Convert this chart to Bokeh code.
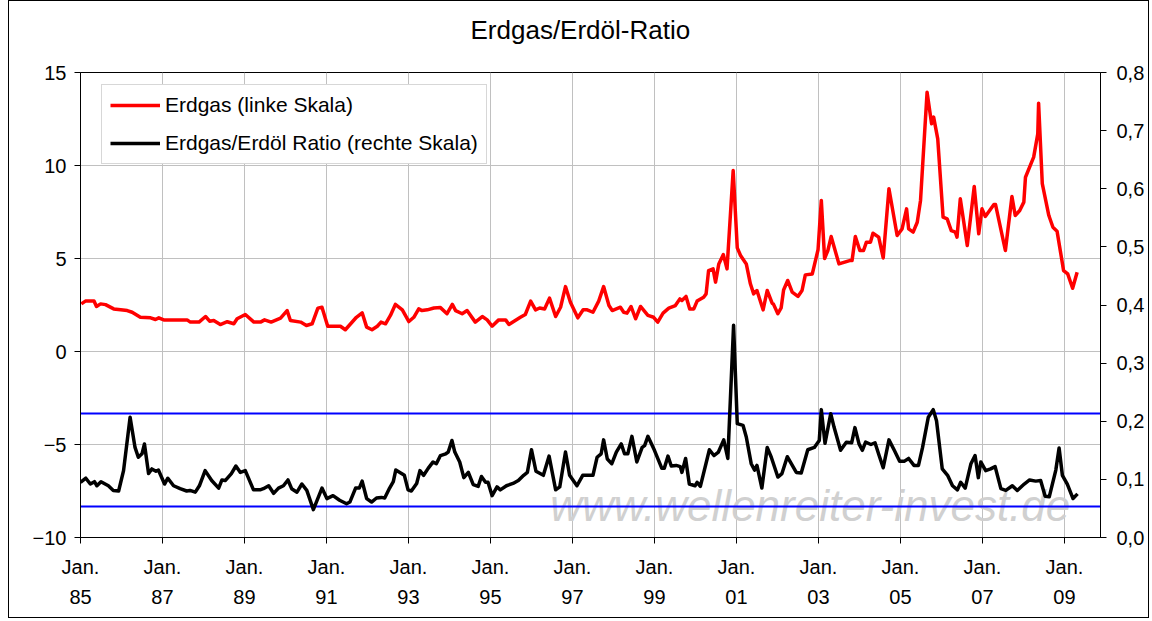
from bokeh.plotting import figure
from bokeh.models import (Range1d, LinearAxis, FixedTicker, CustomJSTickFormatter,
                          Label, Legend, LegendItem, Title)
from bokeh.embed import file_html
from bokeh.resources import INLINE

FONT = "Liberation Sans"

# ---------------- data ----------------
title_text = "Erdgas/Erdöl-Ratio"
gas_label = "Erdgas (linke Skala)"
ratio_label = "Erdgas/Erdöl Ratio (rechte Skala)"
watermark_text = "www.wellenreiter-invest.de"

tick_years = [1985, 1987, 1989, 1991, 1993, 1995, 1997, 1999, 2001, 2003, 2005, 2007, 2009]
left_ticks = [-10, -5, 0, 5, 10, 15]
right_ticks = [0.0, 0.1, 0.2, 0.3, 0.4, 0.5, 0.6, 0.7, 0.8]
band_levels = [0.213, 0.054]

gas_dates = [
    1985.02, 1985.12, 1985.33, 1985.39, 1985.49, 1985.61, 1985.81, 1985.98, 1986.14, 1986.26,
    1986.46, 1986.71, 1986.83, 1986.91, 1987.03, 1987.60, 1987.68, 1987.89, 1988.05, 1988.15,
    1988.25, 1988.41, 1988.58, 1988.74, 1988.82, 1989.02, 1989.23, 1989.39, 1989.49, 1989.65,
    1989.88, 1990.04, 1990.12, 1990.37, 1990.51, 1990.65, 1990.79, 1990.89, 1991.03, 1991.34,
    1991.46, 1991.73, 1991.87, 1991.98, 1992.11, 1992.24, 1992.33, 1992.44, 1992.56, 1992.68,
    1992.85, 1993.01, 1993.13, 1993.25, 1993.33, 1993.46, 1993.62, 1993.78, 1993.94, 1994.07,
    1994.15, 1994.31, 1994.43, 1994.63, 1994.80, 1994.92, 1995.04, 1995.20, 1995.37, 1995.45,
    1995.73, 1995.85, 1995.98, 1996.10, 1996.20, 1996.32, 1996.44, 1996.59, 1996.71, 1996.83,
    1996.95, 1997.13, 1997.26, 1997.36, 1997.50, 1997.64, 1997.76, 1997.89, 1997.97, 1998.17,
    1998.25, 1998.33, 1998.43, 1998.54, 1998.66, 1998.84, 1998.98, 1999.08, 1999.21, 1999.35,
    1999.51, 1999.62, 1999.67, 1999.77, 1999.86, 1999.96, 2000.04, 2000.20, 2000.26, 2000.32,
    2000.43, 2000.49, 2000.57, 2000.68, 2000.77, 2000.92, 2001.02, 2001.10, 2001.24, 2001.34,
    2001.42, 2001.50, 2001.65, 2001.75, 2001.87, 2001.90, 2002.01, 2002.09, 2002.15, 2002.25,
    2002.36, 2002.50, 2002.60, 2002.68, 2002.85, 2002.99, 2003.07, 2003.15, 2003.23, 2003.31,
    2003.50, 2003.76, 2003.82, 2003.90, 2004.01, 2004.10, 2004.17, 2004.27, 2004.33, 2004.47,
    2004.58, 2004.72, 2004.92, 2005.04, 2005.15, 2005.20, 2005.31, 2005.41, 2005.49, 2005.65,
    2005.76, 2005.81, 2005.91, 2006.04, 2006.14, 2006.24, 2006.34, 2006.38, 2006.46, 2006.63,
    2006.80, 2006.91, 2006.99, 2007.07, 2007.28, 2007.32, 2007.56, 2007.72, 2007.80, 2007.91,
    2008.01, 2008.05, 2008.25, 2008.35, 2008.37, 2008.46, 2008.62, 2008.72, 2008.82, 2008.98,
    2009.08, 2009.20, 2009.31,
]
gas_values = [
    2.56, 2.71, 2.71, 2.42, 2.56, 2.52, 2.29, 2.24, 2.20, 2.11,
    1.84, 1.81, 1.72, 1.81, 1.70, 1.70, 1.58, 1.58, 1.88, 1.63,
    1.67, 1.45, 1.60, 1.49, 1.76, 1.99, 1.58, 1.58, 1.70, 1.58,
    1.79, 2.20, 1.67, 1.58, 1.40, 1.49, 2.33, 2.38, 1.36, 1.36,
    1.17, 1.84, 2.08, 1.31, 1.17, 1.36, 1.58, 1.49, 1.94, 2.53,
    2.24, 1.61, 1.84, 2.29, 2.20, 2.24, 2.34, 2.36, 2.03, 2.53,
    2.20, 2.03, 2.20, 1.58, 1.88, 1.70, 1.36, 1.70, 1.70, 1.45,
    1.84, 1.99, 2.71, 2.24, 2.34, 2.29, 2.87, 1.88, 2.38, 3.49,
    2.65, 1.81, 2.24, 2.24, 2.11, 2.71, 3.49, 2.47, 2.20, 2.38,
    2.11, 2.06, 2.42, 1.76, 2.42, 1.94, 1.84, 1.58, 2.06, 2.33,
    2.47, 2.83, 2.74, 2.96, 2.29, 2.29, 2.71, 2.92, 3.10, 4.35,
    4.44, 3.73, 4.71, 5.21, 4.44, 9.73, 5.57, 5.16, 4.71, 3.64,
    3.10, 3.28, 2.24, 3.28, 2.60, 2.56, 2.03, 2.34, 3.31, 3.82,
    3.19, 2.96, 3.28, 4.12, 4.17, 5.47, 8.12, 5.00, 5.43, 6.18,
    4.71, 4.89, 4.89, 6.18, 5.43, 5.43, 5.88, 5.88, 6.36, 6.15,
    5.03, 8.75, 6.24, 6.59, 7.67, 6.59, 6.42, 6.95, 8.12, 13.94,
    12.24, 12.60, 11.43, 7.22, 7.13, 6.50, 6.42, 6.15, 8.21, 5.70,
    8.87, 6.33, 7.67, 7.26, 7.90, 7.90, 5.43, 8.33, 7.31, 7.58,
    8.03, 9.37, 10.45, 11.70, 13.35, 9.02, 7.31, 6.68, 6.47, 4.35,
    4.17, 3.40, 4.26,
]

ratio_dates = [
    1985.00, 1985.13, 1985.24, 1985.34, 1985.40, 1985.50, 1985.68, 1985.80, 1985.93, 1986.05,
    1986.21, 1986.33, 1986.41, 1986.50, 1986.56, 1986.66, 1986.74, 1986.84, 1986.90, 1987.05,
    1987.13, 1987.27, 1987.43, 1987.59, 1987.67, 1987.80, 1987.90, 1988.04, 1988.20, 1988.37,
    1988.45, 1988.53, 1988.68, 1988.79, 1988.90, 1989.02, 1989.22, 1989.38, 1989.46, 1989.59,
    1989.71, 1989.83, 1989.95, 1990.06, 1990.15, 1990.28, 1990.40, 1990.52, 1990.68, 1990.89,
    1991.01, 1991.16, 1991.32, 1991.49, 1991.57, 1991.71, 1991.80, 1991.87, 1991.98, 1992.10,
    1992.22, 1992.34, 1992.42, 1992.54, 1992.63, 1992.69, 1992.90, 1992.99, 1993.07, 1993.20,
    1993.28, 1993.37, 1993.48, 1993.60, 1993.68, 1993.78, 1993.91, 1993.97, 1994.06, 1994.13,
    1994.25, 1994.35, 1994.46, 1994.58, 1994.70, 1994.78, 1994.88, 1994.94, 1995.04, 1995.16,
    1995.24, 1995.39, 1995.55, 1995.68, 1995.81, 1995.90, 1996.00, 1996.11, 1996.29, 1996.43,
    1996.59, 1996.69, 1996.83, 1996.93, 1997.05, 1997.11, 1997.25, 1997.50, 1997.60, 1997.70,
    1997.76, 1997.85, 1997.96, 1998.07, 1998.19, 1998.27, 1998.35, 1998.45, 1998.57, 1998.70,
    1998.76, 1998.84, 1999.00, 1999.18, 1999.24, 1999.33, 1999.41, 1999.53, 1999.63, 1999.67,
    1999.76, 1999.85, 1999.99, 2000.04, 2000.12, 2000.34, 2000.45, 2000.56, 2000.69, 2000.79,
    2000.93, 2001.02, 2001.16, 2001.24, 2001.36, 2001.44, 2001.50, 2001.62, 2001.75, 2001.85,
    2002.01, 2002.11, 2002.24, 2002.46, 2002.58, 2002.74, 2002.90, 2003.02, 2003.07, 2003.16,
    2003.30, 2003.38, 2003.54, 2003.68, 2003.81, 2003.89, 2003.99, 2004.07, 2004.15, 2004.28,
    2004.38, 2004.48, 2004.58, 2004.72, 2004.85, 2004.98, 2005.09, 2005.20, 2005.33, 2005.44,
    2005.54, 2005.68, 2005.80, 2005.88, 2006.02, 2006.15, 2006.27, 2006.39, 2006.47, 2006.58,
    2006.72, 2006.82, 2006.90, 2006.96, 2007.08, 2007.20, 2007.31, 2007.45, 2007.57, 2007.73,
    2007.85, 2008.02, 2008.15, 2008.30, 2008.42, 2008.53, 2008.63, 2008.79, 2008.87, 2008.95,
    2009.07, 2009.21, 2009.32,
]
ratio_values = [
    0.095, 0.102, 0.092, 0.096, 0.089, 0.096, 0.089, 0.081, 0.080, 0.115,
    0.207, 0.155, 0.138, 0.144, 0.161, 0.110, 0.118, 0.114, 0.116, 0.092,
    0.102, 0.089, 0.084, 0.080, 0.081, 0.078, 0.089, 0.115, 0.098, 0.085,
    0.099, 0.098, 0.110, 0.123, 0.112, 0.115, 0.082, 0.082, 0.084, 0.089,
    0.076, 0.085, 0.089, 0.099, 0.084, 0.078, 0.092, 0.081, 0.048, 0.085,
    0.067, 0.072, 0.064, 0.058, 0.061, 0.085, 0.085, 0.097, 0.067, 0.061,
    0.068, 0.069, 0.068, 0.085, 0.096, 0.116, 0.107, 0.082, 0.080, 0.093,
    0.115, 0.107, 0.119, 0.130, 0.127, 0.141, 0.144, 0.147, 0.167, 0.147,
    0.130, 0.103, 0.112, 0.091, 0.088, 0.105, 0.095, 0.095, 0.072, 0.087,
    0.082, 0.089, 0.093, 0.098, 0.107, 0.112, 0.151, 0.114, 0.107, 0.140,
    0.082, 0.087, 0.147, 0.107, 0.095, 0.089, 0.107, 0.107, 0.138, 0.144,
    0.168, 0.135, 0.127, 0.147, 0.161, 0.144, 0.144, 0.174, 0.130, 0.155,
    0.158, 0.174, 0.150, 0.119, 0.119, 0.140, 0.123, 0.124, 0.122, 0.112,
    0.136, 0.092, 0.089, 0.095, 0.088, 0.151, 0.141, 0.147, 0.168, 0.136,
    0.365, 0.196, 0.193, 0.173, 0.127, 0.116, 0.124, 0.085, 0.155, 0.138,
    0.104, 0.110, 0.139, 0.112, 0.111, 0.151, 0.155, 0.167, 0.220, 0.162,
    0.213, 0.190, 0.150, 0.164, 0.163, 0.189, 0.161, 0.150, 0.164, 0.160,
    0.163, 0.141, 0.120, 0.168, 0.150, 0.131, 0.131, 0.136, 0.124, 0.124,
    0.155, 0.207, 0.220, 0.201, 0.118, 0.107, 0.089, 0.082, 0.095, 0.085,
    0.127, 0.141, 0.103, 0.130, 0.115, 0.118, 0.122, 0.084, 0.081, 0.089,
    0.081, 0.092, 0.099, 0.097, 0.098, 0.071, 0.070, 0.116, 0.154, 0.107,
    0.092, 0.067, 0.075,
]

# ---------------- figure ----------------
p = figure(width=1141, height=618, output_backend="svg", toolbar_location=None,
           x_range=Range1d(1985.0, 2009.88), y_range=Range1d(-10, 15),
           min_border_left=71, min_border_right=50, min_border_top=71, min_border_bottom=82,
           background_fill_color="white", border_fill_color="white")
p.styles = {"border": "1px solid black", "margin-left": "8px"}
p.extra_y_ranges = {"ratio": Range1d(0, 0.8)}

# main title (placed outermost in the "above" panel)
p.title.text = title_text
p.title.align = "left"
p.title.offset = 390
p.title.text_font = FONT
p.title.text_font_size = "26px"
p.title.text_font_style = "normal"
p.title.text_color = "black"

# blank spacer between the frame and the title
spacer = Title(text=" ", text_font=FONT, text_font_size="10px")
p.add_layout(spacer, "above")

p.outline_line_color = "black"
p.outline_line_width = 1

# grids
p.xgrid.ticker = FixedTicker(ticks=tick_years)
p.ygrid.ticker = FixedTicker(ticks=left_ticks)
for g in (p.xgrid, p.ygrid):
    g.grid_line_color = "#c0c0c0"
    g.grid_line_width = 1

# x axis
xa = p.xaxis[0]
xa.ticker = FixedTicker(ticks=tick_years)
xa.formatter = CustomJSTickFormatter(code="return 'Jan.\\n' + String(tick).slice(2);")
xa.major_label_text_line_height = 1.4
xa.major_label_standoff = 12

# left axis
ya = p.yaxis[0]
ya.ticker = FixedTicker(ticks=left_ticks)
ya.major_label_standoff = 8

# right axis
ra = LinearAxis(y_range_name="ratio", ticker=FixedTicker(ticks=right_ticks),
                formatter=CustomJSTickFormatter(code="return tick.toFixed(1).replace('.', ',');"))
ra.major_label_standoff = 10
p.add_layout(ra, "right")

for ax in (xa, ya, ra):
    ax.axis_line_color = "black"
    ax.axis_line_width = 1
    ax.major_tick_line_color = "black"
    ax.major_tick_out = 6
    ax.major_tick_in = 0
    ax.minor_tick_line_color = None
    ax.major_label_text_font = FONT
    ax.major_label_text_font_size = "20px"
    ax.major_label_text_color = "black"

# watermark
wm = Label(x=2002.8, y=-8.28, text=watermark_text, text_align="center", text_baseline="middle",
           text_font=FONT, text_font_size="44px", text_font_style="italic",
           text_color="#d0d0d0", level="underlay")
p.add_layout(wm)

# blue band lines
p.hspan(y=band_levels, line_color="#0000ff", line_width=2, y_range_name="ratio")

# series
r_gas = p.line(gas_dates, gas_values, line_color="#ff0000", line_width=3.5, line_join="round")
r_ratio = p.line(ratio_dates, ratio_values, line_color="black", line_width=3.5, line_join="round",
                 y_range_name="ratio")

legend = Legend(items=[LegendItem(label=gas_label, renderers=[r_gas]),
                       LegendItem(label=ratio_label, renderers=[r_ratio])],
                location=(21, 373))
legend.label_text_font = FONT
legend.label_text_font_size = "21px"
legend.label_text_color = "black"
legend.glyph_width = 50
legend.glyph_height = 20
legend.label_height = 20
legend.label_standoff = 5
legend.spacing = 14
legend.padding = 8
legend.margin = 0
legend.border_line_color = "#b0b0b0"
legend.border_line_width = 1
legend.background_fill_color = "white"
legend.background_fill_alpha = 1
p.add_layout(legend)

open("out.html", "w").write(file_html(p, INLINE))
